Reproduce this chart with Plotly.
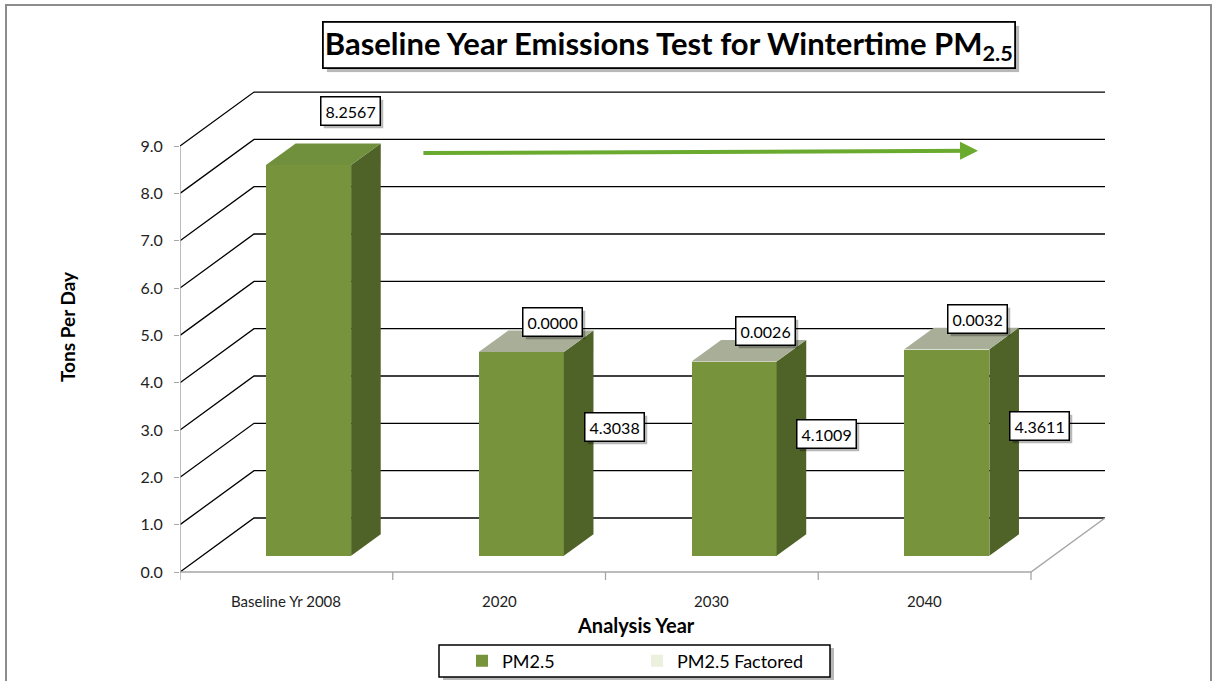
import plotly.graph_objects as go

# ---------------- data ----------------
categories = ["Baseline Yr 2008", "2020", "2030", "2040"]
pm25 = [8.2567, 4.3038, 4.1009, 4.3611]
pm25_factored = [None, 0.0000, 0.0026, 0.0032]
y_ticks = [0, 1, 2, 3, 4, 5, 6, 7, 8, 9]

# ---------------- geometry ----------------
W, H = 1216, 681
PX_L, PX_PER_X = 180.0, 212.75      # pixel of x = -0.5, pixels per category
PX_Y0, PX_PER_Y = 572.0, 47.33      # pixel of y = 0, pixels per unit
X_MIN = -0.5
X_MAX = X_MIN + (W - 10 - PX_L) / PX_PER_X
Y_MAX = (PX_Y0 - 0) / PX_PER_Y
Y_MIN = -(H - PX_Y0) / PX_PER_Y
plot_r = PX_L + (X_MAX - X_MIN) * PX_PER_X
plot_t = PX_Y0 - Y_MAX * PX_PER_Y
plot_b = PX_Y0 - Y_MIN * PX_PER_Y


def paper_x(px):
    return (px - PX_L) / (plot_r - PX_L)


def paper_y(py):
    return (plot_b - py) / (plot_b - plot_t)


def data_y(py):
    return (PX_Y0 - py) / PX_PER_Y


# oblique depth of the whole box, in data units
DX = 74 / PX_PER_X
DY = 54 / PX_PER_Y
BAR_F0, BAR_F1 = 0.3, 0.7       # bar front / back depth fractions
BAR_W = 0.40
sx, sy = BAR_F0 * DX, BAR_F0 * DY
bdx, bdy = (BAR_F1 - BAR_F0) * DX, (BAR_F1 - BAR_F0) * DY

C_FRONT = "#77933C"
C_SIDE = "#4F6228"
C_TOP = "#71903E"
C_TOP_F = "#A8AE98"
C_FACT = "#EBF1DE"
FONT = "Lato, Open Sans, sans-serif"

fig = go.Figure()

# front faces (bars)
xs = [i + sx for i in range(len(categories))]
fig.add_trace(go.Bar(
    x=xs, y=pm25, base=[sy] * len(pm25), width=BAR_W,
    marker=dict(color=C_FRONT, line=dict(width=0)),
    name="PM2.5", hoverinfo="skip"))
fact_vals = [f if f is not None else 0 for f in pm25_factored]
fig.add_trace(go.Bar(
    x=xs, y=fact_vals, base=[sy + v for v in pm25], width=BAR_W,
    marker=dict(color=C_FACT, line=dict(width=0)),
    name="PM2.5 Factored", hoverinfo="skip"))

# side and top faces
for i, (v, f) in enumerate(zip(pm25, pm25_factored)):
    xl = i - BAR_W / 2 + sx
    xr = i + BAR_W / 2 + sx
    top = v + (f or 0)
    fig.add_trace(go.Scatter(
        x=[xr, xr + bdx, xr + bdx, xr, xr],
        y=[sy, sy + bdy, top + sy + bdy, top + sy, sy],
        fill="toself", fillcolor=C_SIDE, mode="lines",
        line=dict(width=0, color=C_SIDE), showlegend=False, hoverinfo="skip"))
    fig.add_trace(go.Scatter(
        x=[xl, xr, xr + bdx, xl + bdx, xl],
        y=[top + sy, top + sy, top + sy + bdy, top + sy + bdy, top + sy],
        fill="toself", fillcolor=(C_TOP if f is None else C_TOP_F), mode="lines",
        line=dict(width=0), showlegend=False, hoverinfo="skip"))

shapes = []
# back wall gridlines + side wall diagonals
for v in y_ticks:
    shapes.append(dict(type="path", xref="x", yref="y", layer="below",
                       path=f"M {X_MIN},{v} L {X_MIN + DX},{v + DY} L {3.5 + DX},{v + DY}",
                       line=dict(color="#000000", width=1.3)))
# floor front & right edge, y axis line
shapes.append(dict(type="path", xref="x", yref="y", layer="below",
                   path=f"M {X_MIN},0 L 3.5,0 L {3.5 + DX},{DY}",
                   line=dict(color="#A6A6A6", width=1.5)))
shapes.append(dict(type="line", xref="x", yref="y", layer="below",
                   x0=X_MIN, x1=X_MIN, y0=0, y1=y_ticks[-1],
                   line=dict(color="#A6A6A6", width=1.5)))
# category boundary tick marks
for k in range(len(categories) + 1):
    xb = -0.5 + k
    shapes.append(dict(type="line", xref="x", yref="y", layer="below",
                       x0=xb, x1=xb, y0=0, y1=-8 / PX_PER_Y,
                       line=dict(color="#A6A6A6", width=1.3)))
# outer chart frame
shapes.append(dict(type="rect", xref="paper", yref="paper", layer="below",
                   x0=paper_x(6), x1=paper_x(1211), y0=paper_y(700), y1=paper_y(5),
                   line=dict(color="#8C8C8C", width=2)))
# legend box with shadow
shapes.append(dict(type="rect", xref="paper", yref="paper", layer="below",
                   x0=paper_x(443), x1=paper_x(834), y0=paper_y(680), y1=paper_y(648),
                   fillcolor="rgba(0,0,0,0.28)", line=dict(width=0)))
shapes.append(dict(type="rect", xref="paper", yref="paper", layer="below",
                   x0=paper_x(439), x1=paper_x(830), y0=paper_y(677), y1=paper_y(645),
                   fillcolor="#FFFFFF", line=dict(color="#000000", width=1.5)))

annotations = []


def boxed(text, x, y, xref="x", yref="y", size=16, pad=4, bw=1.5, shadow=3):
    common = dict(x=x, y=y, xref=xref, yref=yref, showarrow=False,
                  xanchor="center", yanchor="middle", borderwidth=bw, borderpad=pad)
    annotations.append(dict(text=text, **common,
                            font=dict(family=FONT, size=size, color="rgba(0,0,0,0)"),
                            bgcolor="rgba(0,0,0,0.28)", bordercolor="rgba(0,0,0,0)",
                            xshift=shadow, yshift=-shadow))
    annotations.append(dict(text=text, **common,
                            font=dict(family=FONT, size=size, color="#000000"),
                            bgcolor="#FFFFFF", bordercolor="#000000"))


# data labels
for i, (v, f) in enumerate(zip(pm25, pm25_factored)):
    if f is None:
        boxed(f"{v:.4f}", i + 0.30, v + sy + 1.14)
    else:
        boxed(f"{f:.4f}", i + 0.25, v + f + 0.98)
        boxed(f"{v:.4f}", i + 0.54, sy + v * 0.63)

# category labels
for i, c in enumerate(categories):
    annotations.append(dict(text=c, x=i, y=data_y(601), xref="x", yref="y",
                            showarrow=False, xanchor="center", yanchor="middle",
                            font=dict(family=FONT, size=15, color="#222222")))

# title
boxed("<b>Baseline Year Emissions Test for Wintertime PM<sub>2.5</sub></b>",
      paper_x(669), paper_y(45), xref="paper", yref="paper", size=31, pad=1, bw=1.8, shadow=4)

# axis titles
annotations.append(dict(text="<b>Tons Per Day</b>", x=paper_x(68), y=paper_y(327),
                        xref="paper", yref="paper", showarrow=False, textangle=-90,
                        xanchor="center", yanchor="middle",
                        font=dict(family=FONT, size=19, color="#000000")))
annotations.append(dict(text="<b>Analysis Year</b>", x=paper_x(636), y=paper_y(625),
                        xref="paper", yref="paper", showarrow=False,
                        xanchor="center", yanchor="middle",
                        font=dict(family=FONT, size=20, color="#000000")))

# green trend arrow
annotations.append(dict(text="", x=3.251, y=8.90, ax=0.637, ay=8.85,
                        xref="x", yref="y", axref="x", ayref="y",
                        showarrow=True, arrowhead=2, arrowsize=0.9, arrowwidth=4,
                        arrowcolor="#6AAA2E"))

fig.update_layout(
    width=W, height=H,
    margin=dict(l=PX_L, r=W - plot_r, t=plot_t, b=H - plot_b, pad=0, autoexpand=False),
    paper_bgcolor="#FFFFFF", plot_bgcolor="rgba(0,0,0,0)",
    barmode="overlay", bargap=0,
    shapes=shapes, annotations=annotations,
    font=dict(family=FONT, color="#000000"),
    legend=dict(orientation="h", x=paper_x(462), xanchor="left",
                y=paper_y(661), yanchor="middle",
                bgcolor="rgba(0,0,0,0)", borderwidth=0,
                font=dict(family=FONT, size=18, color="#000000"),
                entrywidth=130, entrywidthmode="pixels",
                itemwidth=30, traceorder="normal"),
    xaxis=dict(range=[X_MIN, X_MAX], showticklabels=False, ticks="",
               showgrid=False, zeroline=False, showline=False, fixedrange=True),
    yaxis=dict(range=[Y_MIN, Y_MAX], tickvals=y_ticks, tickformat=".1f",
               ticks="outside", ticklen=5, tickcolor="#A6A6A6", tickwidth=1.3,
               showgrid=False, zeroline=False, showline=False, ticklabelstandoff=8,
               tickfont=dict(family=FONT, size=16, color="#222222"), fixedrange=True),
)

fig.write_html("out.html", config={"displayModeBar": False},
               post_script="document.body.style.margin='0px';document.body.style.overflow='hidden';")
